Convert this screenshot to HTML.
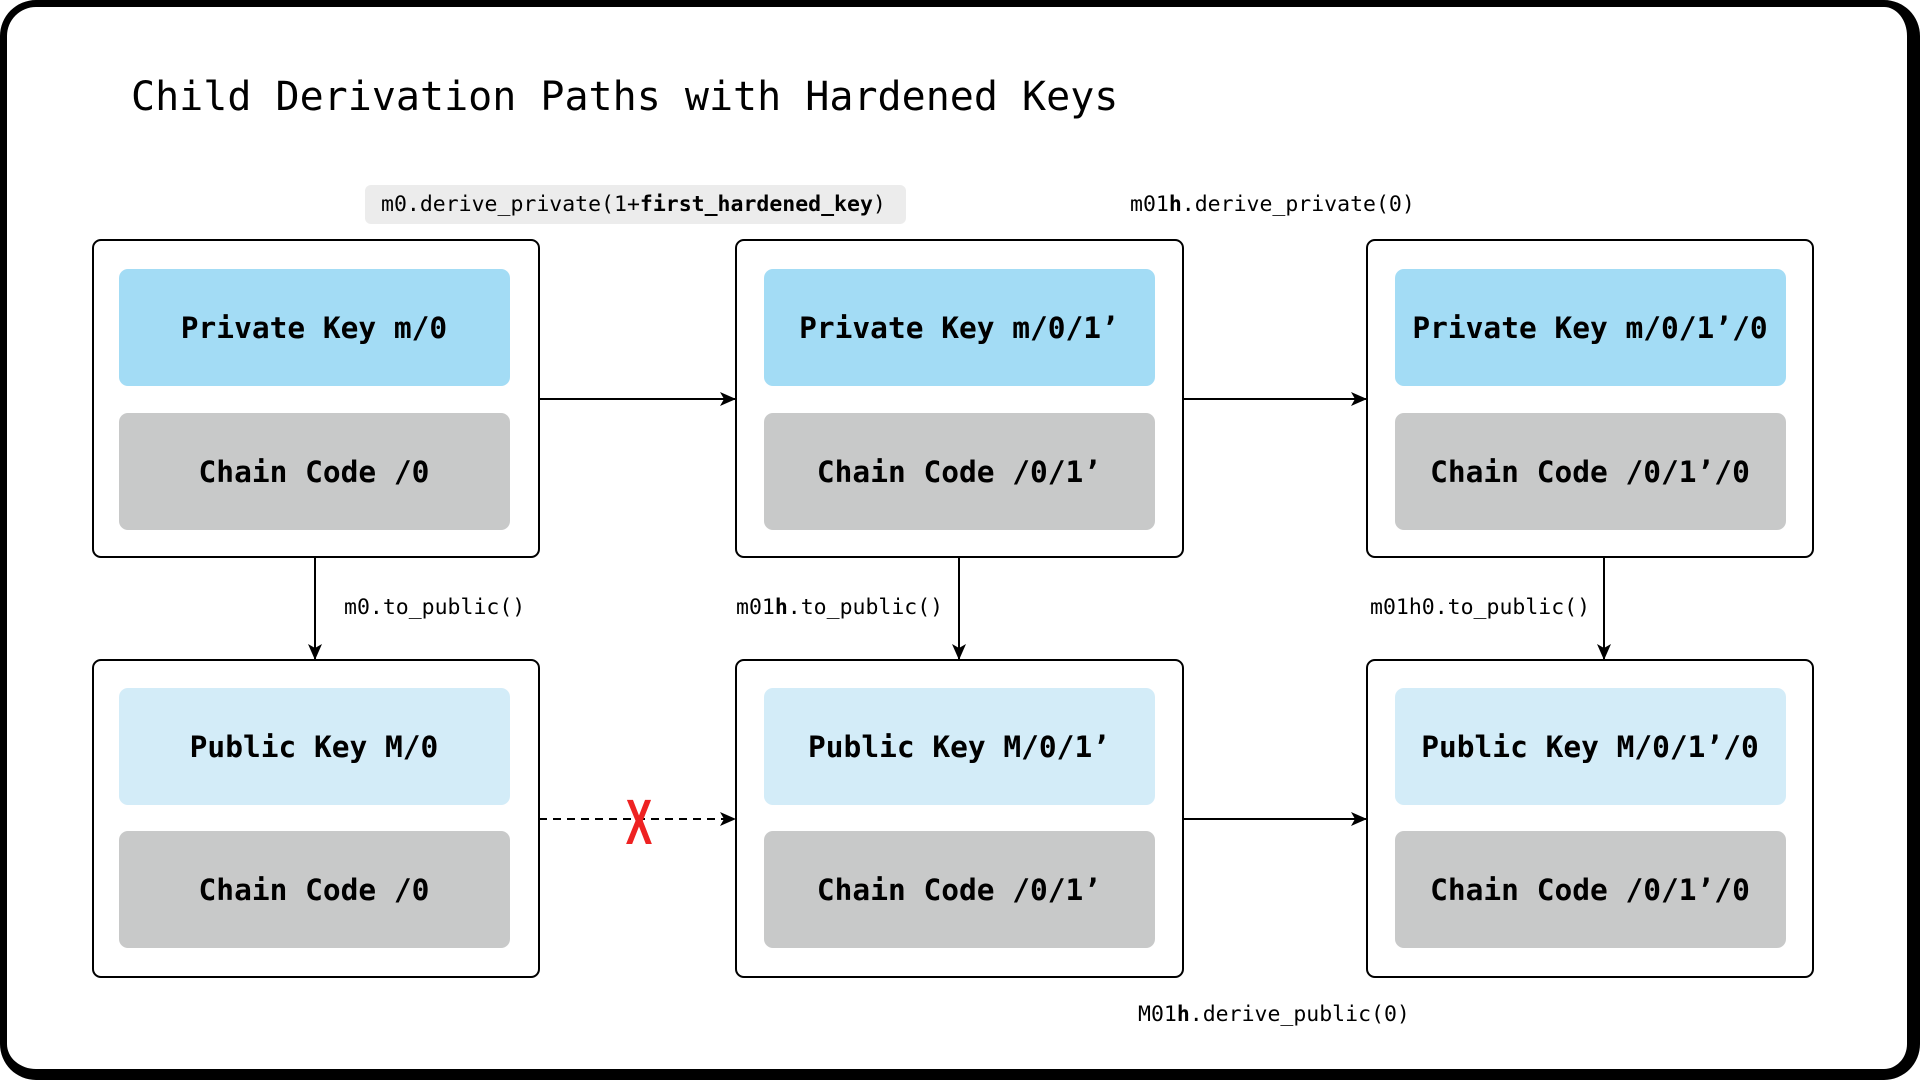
<!DOCTYPE html>
<html><head><meta charset="utf-8"><style>
html,body{margin:0;padding:0;background:#fff;}
body{width:1920px;height:1080px;overflow:hidden;position:relative;}
.frame{position:absolute;left:0;top:0;width:1920px;height:1080px;box-sizing:border-box;border-style:solid;border-color:#000;border-width:7px 13px 11px 7px;border-radius:36px;}
svg{position:absolute;left:0;top:0;}
text{font-family:"DejaVu Sans Mono","Liberation Mono",monospace;}
</style></head><body>
<div class="frame"></div>
<svg width="1920" height="1080" viewBox="0 0 1920 1080">
<defs>
<marker id="a" markerWidth="16" markerHeight="14" refX="15" refY="7" orient="auto" markerUnits="userSpaceOnUse">
<path d="M0,0 L16,7 L0,14 L4,7 Z" fill="#000"/></marker>
</defs>
<text x="131" y="110" font-size="40" fill="#000">Child Derivation Paths with Hardened Keys</text>

<rect x="365" y="185" width="541" height="39" rx="6" fill="#ececec"/>
<text x="381" y="211" font-size="21.5">m0.derive_private(1+<tspan font-weight="bold">first_hardened_key</tspan>)</text>
<text x="1130" y="211" font-size="21.5">m01<tspan font-weight="bold">h</tspan>.derive_private(0)</text>
<text x="344" y="614" font-size="21.5">m0.to_public()</text>
<text x="736" y="614" font-size="21.5">m01<tspan font-weight="bold">h</tspan>.to_public()</text>
<text x="1370" y="614" font-size="21.5">m01h0.to_public()</text>
<text x="1138" y="1021" font-size="21.5">M01<tspan font-weight="bold">h</tspan>.derive_public(0)</text>

<g fill="#fff" stroke="#000" stroke-width="2">
<rect x="93" y="240" width="446" height="317" rx="8"/>
<rect x="736" y="240" width="447" height="317" rx="8"/>
<rect x="1367" y="240" width="446" height="317" rx="8"/>
<rect x="93" y="660" width="446" height="317" rx="8"/>
<rect x="736" y="660" width="447" height="317" rx="8"/>
<rect x="1367" y="660" width="446" height="317" rx="8"/>
</g>
<g>
<rect x="119" y="269" width="391" height="117" rx="9" fill="#a3dcf5"/>
<rect x="119" y="413" width="391" height="117" rx="9" fill="#c8c9c9"/>
<rect x="764" y="269" width="391" height="117" rx="9" fill="#a3dcf5"/>
<rect x="764" y="413" width="391" height="117" rx="9" fill="#c8c9c9"/>
<rect x="1395" y="269" width="391" height="117" rx="9" fill="#a3dcf5"/>
<rect x="1395" y="413" width="391" height="117" rx="9" fill="#c8c9c9"/>
<rect x="119" y="688" width="391" height="117" rx="9" fill="#d3ecf8"/>
<rect x="119" y="831" width="391" height="117" rx="9" fill="#c8c9c9"/>
<rect x="764" y="688" width="391" height="117" rx="9" fill="#d3ecf8"/>
<rect x="764" y="831" width="391" height="117" rx="9" fill="#c8c9c9"/>
<rect x="1395" y="688" width="391" height="117" rx="9" fill="#d3ecf8"/>
<rect x="1395" y="831" width="391" height="117" rx="9" fill="#c8c9c9"/>
</g>
<g font-size="29.5" font-weight="bold" text-anchor="middle" fill="#000">
<text x="314" y="338">Private Key m/0</text>
<text x="314" y="482">Chain Code /0</text>
<text x="959" y="338">Private Key m/0/1’</text>
<text x="959" y="482">Chain Code /0/1’</text>
<text x="1590" y="338">Private Key m/0/1’/0</text>
<text x="1590" y="482">Chain Code /0/1’/0</text>
<text x="314" y="757">Public Key M/0</text>
<text x="314" y="900">Chain Code /0</text>
<text x="959" y="757">Public Key M/0/1’</text>
<text x="959" y="900">Chain Code /0/1’</text>
<text x="1590" y="757">Public Key M/0/1’/0</text>
<text x="1590" y="900">Chain Code /0/1’/0</text>
</g>
<g stroke="#000" stroke-width="2" fill="none">
<line x1="539" y1="399" x2="735" y2="399" marker-end="url(#a)"/>
<line x1="1183" y1="399" x2="1366" y2="399" marker-end="url(#a)"/>
<line x1="1183" y1="819" x2="1366" y2="819" marker-end="url(#a)"/>
<line x1="539" y1="819" x2="735" y2="819" stroke-dasharray="8,6" marker-end="url(#a)"/>
<line x1="315" y1="557" x2="315" y2="659" marker-end="url(#a)"/>
<line x1="959" y1="557" x2="959" y2="659" marker-end="url(#a)"/>
<line x1="1604" y1="557" x2="1604" y2="659" marker-end="url(#a)"/>
</g>
<text transform="translate(639,844) scale(0.62,1)" font-size="64" font-weight="bold" fill="#ee2222" text-anchor="middle" style="font-family:'Liberation Sans',sans-serif">X</text>
</svg>
</body></html>
